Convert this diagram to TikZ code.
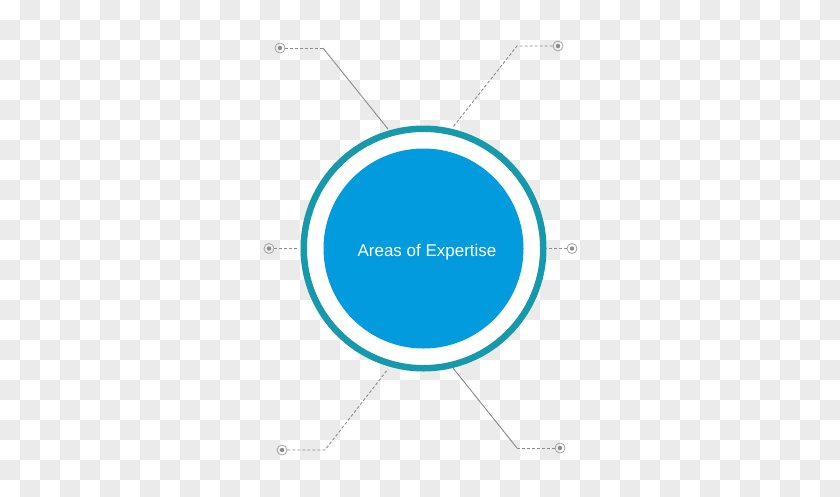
\documentclass[tikz,border=0pt]{standalone}
\usepackage{fontspec}
\setmainfont{Liberation Sans}

\definecolor{checkgrey}{RGB}{235,235,235}
\definecolor{ringteal}{RGB}{22,153,170}
\definecolor{discblue}{RGB}{2,155,222}
\definecolor{leadgrey}{RGB}{140,140,140}

\tikzset{
    tile/.style={fill=checkgrey},
    leader/.style={draw=leadgrey, line width=0.9pt},
    leaderdash/.style={leader, dash pattern=on 3pt off 2pt},
    knob/.style={circle, draw=leadgrey!80, line width=0.8pt,
        minimum size=10pt, inner sep=0pt,
        path picture={\fill[leadgrey] (path picture bounding box.center) circle (2.2pt);}}
}

\begin{document}
\begin{tikzpicture}[x=1pt, y=-1pt]

    % Fix the canvas to the size of the figure
    \useasboundingbox (0,0) rectangle (840,496);

    % Checkerboard background
    \foreach \i in {0,...,41}{
        \foreach \j in {0,...,24}{
            \ifodd\numexpr\i+\j\relax
                \path[tile] (20*\i,20*\j) rectangle +(20,20);
            \fi
        }
    }

    % Define the centre of the circles
    \coordinate (O) at (423.5,248.5);

    % White disc with the teal ring round it
    \fill[white] (O) circle (123pt);
    \draw[ringteal, line width=6.5pt] (O) circle (119.75pt);

    % Blue disc with the title
    \node[circle, fill=discblue, minimum size=200pt, inner sep=0pt] (disc) at (O) {};
    \node[text=white, font=\fontsize{17}{20}\selectfont, anchor=base] (title) at (427,256.7) {Areas of Expertise};

    % Knobs at the free ends of the leaders
    \node[knob] (tl) at (280,48) {};
    \node[knob] (tr) at (558,46) {};
    \node[knob] (l) at (269,248.5) {};
    \node[knob] (r) at (572,248.5) {};
    \node[knob] (bl) at (282,450) {};
    \node[knob] (br) at (560,448) {};

    % Bends of the leaders and their ends at the ring
    \coordinate (tlbend) at (323,48);
    \coordinate (tlring) at (388,129);
    \coordinate (trbend) at (517,46);
    \coordinate (trring) at (453,127);
    \coordinate (lring) at (297,248.5);
    \coordinate (rring) at (546,248.5);
    \coordinate (blbend) at (325,450);
    \coordinate (blring) at (388,369);
    \coordinate (brbend) at (517,448);
    \coordinate (brring) at (453,368);

    % Leaders
    \draw[leaderdash] (tl) -- (tlbend);
    \draw[leader] (tlbend) -- (tlring);
    \draw[leaderdash] (tr) -- (trbend) -- (trring);
    \draw[leaderdash] (l) -- (lring);
    \draw[leaderdash] (r) -- (rring);
    \draw[leaderdash] (bl) -- (blbend) -- (blring);
    \draw[leaderdash] (br) -- (brbend);
    \draw[leader] (brbend) -- (brring);

\end{tikzpicture}
\end{document}
